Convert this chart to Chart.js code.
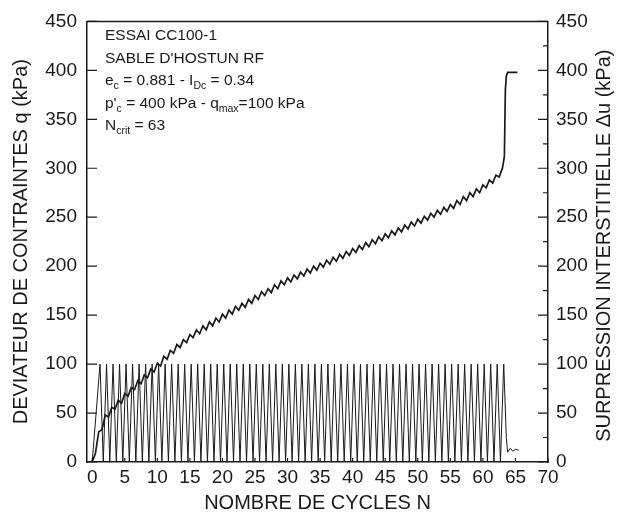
<!DOCTYPE html>
<html>
<head>
<meta charset="utf-8">
<script src="https://cdn.jsdelivr.net/npm/chart.js@4.4.0/dist/chart.umd.min.js"></script>
<style>
  html, body { margin: 0; padding: 0; background: #fff; }
  #wrap { width: 620px; height: 521px; }
</style>
</head>
<body>
<div id="wrap"><canvas id="essai_chart"></canvas></div>
<script>
// cycles N for the deviator q (peak at k+0.2, back to 0 at k+0.7)
const qN = [
  0, 1.2, 1.7, 2.2, 2.7, 3.2, 3.7, 4.2, 4.7, 5.2, 5.7, 6.2, 6.7, 7.2, 7.7, 8.2, 8.7, 9.2, 9.7,
  10.2, 10.7, 11.2, 11.7, 12.2, 12.7, 13.2, 13.7, 14.2, 14.7, 15.2, 15.7, 16.2, 16.7, 17.2, 17.7,
  18.2, 18.7, 19.2, 19.7, 20.2, 20.7, 21.2, 21.7, 22.2, 22.7, 23.2, 23.7, 24.2, 24.7, 25.2, 25.7,
  26.2, 26.7, 27.2, 27.7, 28.2, 28.7, 29.2, 29.7, 30.2, 30.7, 31.2, 31.7, 32.2, 32.7, 33.2, 33.7,
  34.2, 34.7, 35.2, 35.7, 36.2, 36.7, 37.2, 37.7, 38.2, 38.7, 39.2, 39.7, 40.2, 40.7, 41.2, 41.7,
  42.2, 42.7, 43.2, 43.7, 44.2, 44.7, 45.2, 45.7, 46.2, 46.7, 47.2, 47.7, 48.2, 48.7, 49.2, 49.7,
  50.2, 50.7, 51.2, 51.7, 52.2, 52.7, 53.2, 53.7, 54.2, 54.7, 55.2, 55.7, 56.2, 56.7, 57.2, 57.7,
  58.2, 58.7, 59.2, 59.7, 60.2, 60.7, 61.2, 61.7, 62.2, 62.7, 63.2,
  63.6, 63.8, 64.2, 64.6, 65.0, 65.5
];
const qValues = [
  0,
  100, 0, 100, 0, 100, 0, 100, 0, 100, 0,
  100, 0, 100, 0, 100, 0, 100, 0, 100, 0,
  100, 0, 100, 0, 100, 0, 100, 0, 100, 0,
  100, 0, 100, 0, 100, 0, 100, 0, 100, 0,
  100, 0, 100, 0, 100, 0, 100, 0, 100, 0,
  100, 0, 100, 0, 100, 0, 100, 0, 100, 0,
  100, 0, 100, 0, 100, 0, 100, 0, 100, 0,
  100, 0, 100, 0, 100, 0, 100, 0, 100, 0,
  100, 0, 100, 0, 100, 0, 100, 0, 100, 0,
  100, 0, 100, 0, 100, 0, 100, 0, 100, 0,
  100, 0, 100, 0, 100, 0, 100, 0, 100, 0,
  100, 0, 100, 0, 100, 0, 100, 0, 100, 0,
  100, 0, 100, 0,
  100,
  25, 10, 14, 11, 13, 12
];

// cycles N for the pore pressure du
const duN = [
  0, 0.5, 1, 1.5, 2, 2.5, 3, 3.5, 4, 4.5, 5, 5.5, 6, 6.5, 7, 7.5, 8, 8.5, 9, 9.5,
  10, 10.5, 11, 11.5, 12, 12.5, 13, 13.5, 14, 14.5, 15, 15.5, 16, 16.5, 17, 17.5, 18, 18.5, 19, 19.5,
  20, 20.5, 21, 21.5, 22, 22.5, 23, 23.5, 24, 24.5, 25, 25.5, 26, 26.5, 27, 27.5, 28, 28.5, 29, 29.5,
  30, 30.5, 31, 31.5, 32, 32.5, 33, 33.5, 34, 34.5, 35, 35.5, 36, 36.5, 37, 37.5, 38, 38.5, 39, 39.5,
  40, 40.5, 41, 41.5, 42, 42.5, 43, 43.5, 44, 44.5, 45, 45.5, 46, 46.5, 47, 47.5, 48, 48.5, 49, 49.5,
  50, 50.5, 51, 51.5, 52, 52.5, 53, 53.5, 54, 54.5, 55, 55.5, 56, 56.5, 57, 57.5, 58, 58.5, 59, 59.5,
  60, 60.5, 61, 61.5, 62, 62.5, 63,
  63.3, 63.45, 63.6, 63.8, 65.3
];
const duValues = [
  0, 9, 31, 33, 48, 46, 56, 54, 63, 60, 70, 67, 76, 74, 83, 80, 89, 86, 95, 92,
  101, 98, 108, 105, 114, 111, 120, 117, 125, 122, 130, 127, 135, 131, 139, 135, 143, 139, 147, 143,
  151, 147, 155, 151, 159, 155, 162, 158, 166, 162, 170, 166, 174, 170, 177, 173, 181, 177, 185, 181,
  188, 184, 191, 187, 194, 190, 197, 193, 200, 196, 203, 199, 206, 202, 209, 205, 212, 208, 215, 211,
  218, 214, 221, 217, 224, 220, 227, 223, 230, 226, 233, 229, 236, 232, 239, 235, 242, 238, 245, 241,
  248, 244, 251, 247, 254, 250, 257, 253, 260, 256, 263, 259, 267, 263, 271, 267, 275, 271, 279, 275,
  283, 280, 288, 285, 293, 291, 300,
  312, 380, 394, 398, 398
];

const xTicks = [0, 5, 10, 15, 20, 25, 30, 35, 40, 45, 50, 55, 60, 65, 70];

const xTitle = 'NOMBRE DE CYCLES N';
const yTitle = 'DEVIATEUR DE CONTRAINTES q (kPa)';
const y1Title = 'SURPRESSION INTERSTITIELLE \u0394u (kPa)';

// test info, runs with sub:true are subscripts
const infoLines = [
  [{ t: 'ESSAI CC100-1' }],
  [{ t: "SABLE D'HOSTUN RF" }],
  [{ t: 'e' }, { t: 'c', sub: true }, { t: ' = 0.881 - I' }, { t: 'Dc', sub: true }, { t: ' = 0.34' }],
  [{ t: "p'" }, { t: 'c', sub: true }, { t: ' = 400 kPa - q' }, { t: 'max', sub: true }, { t: '=100 kPa' }],
  [{ t: 'N' }, { t: 'crit', sub: true }, { t: ' = 63' }]
];

const FONT = "'Liberation Sans', Arial, sans-serif";
const INK = '#1a1a1a';

const toPoints = (xs, ys) => xs.map((x, i) => ({ x: x, y: ys[i] }));

// frame on top, inward ticks, right title and the info text
const decorPlugin = {
  id: 'decor',
  afterDraw(chart) {
    const ctx = chart.ctx;
    const a = chart.chartArea;
    ctx.save();
    ctx.strokeStyle = INK;
    ctx.lineWidth = 1.5;
    ctx.beginPath();
    ctx.moveTo(a.left, a.top);
    ctx.lineTo(a.right, a.top);
    ctx.stroke();

    ctx.lineWidth = 1.2;
    const yl = chart.scales.y, yr = chart.scales.y1, xs = chart.scales.x;
    ctx.beginPath();
    yl.ticks.forEach(t => {
      const p = yl.getPixelForValue(t.value);
      ctx.moveTo(a.left, p); ctx.lineTo(a.left + 10, p);
    });
    yr.ticks.forEach(t => {
      const p = yr.getPixelForValue(t.value);
      ctx.moveTo(a.right, p); ctx.lineTo(a.right - 10, p);
      if (t.value + 25 < yr.max) {
        const m = yr.getPixelForValue(t.value + 25);
        ctx.moveTo(a.right, m); ctx.lineTo(a.right - 5, m);
      }
    });
    xs.ticks.forEach(t => {
      const p = xs.getPixelForValue(t.value);
      ctx.moveTo(p, a.bottom); ctx.lineTo(p, a.bottom - 4);
    });
    ctx.stroke();

    // right axis title, read bottom to top
    ctx.fillStyle = INK;
    ctx.font = '20px ' + FONT;
    ctx.textAlign = 'center';
    ctx.textBaseline = 'middle';
    ctx.translate(604, (a.top + a.bottom) / 2 + 4);
    ctx.rotate(-Math.PI / 2);
    ctx.fillText(y1Title, 0, 0);
    ctx.restore();

    ctx.save();
    ctx.fillStyle = INK;
    ctx.textBaseline = 'alphabetic';
    ctx.textAlign = 'left';
    let y = a.top + 19;
    infoLines.forEach(line => {
      let x = a.left + 18;
      line.forEach(run => {
        ctx.font = (run.sub ? '10.5px ' : '15.5px ') + FONT;
        ctx.fillText(run.t, x, run.sub ? y + 4 : y);
        x += ctx.measureText(run.t).width;
      });
      y += 22.5;
    });
    ctx.restore();
  }
};

const ctx = document.getElementById('essai_chart').getContext('2d');

const data = {
  datasets: [
    {
      label: 'q',
      data: toPoints(qN, qValues),
      yAxisID: 'y',
      borderColor: INK,
      borderWidth: 1,
      pointRadius: 0,
      tension: 0
    },
    {
      label: 'du',
      data: toPoints(duN, duValues),
      yAxisID: 'y1',
      borderColor: INK,
      borderWidth: 1.7,
      pointRadius: 0,
      tension: 0
    }
  ]
};

const config = {
  type: 'line',
  data: data,
  options: {
    responsive: true,
    maintainAspectRatio: false,
    animation: false,
    layout: { padding: { top: 17, left: 0, right: 0, bottom: 0 } },
    plugins: { legend: { display: false }, tooltip: { enabled: false } },
    scales: {
      x: {
        type: 'linear',
        min: -0.8,
        max: 70,
        afterBuildTicks: s => { s.ticks = xTicks.map(v => ({ value: v })); },
        afterFit: s => { s.height = 59; },
        ticks: { padding: 4, color: INK, font: { family: FONT, size: 19 } },
        grid: { display: false, drawTicks: false },
        border: { color: INK, width: 1.5 },
        title: { display: true, text: xTitle, color: INK, font: { family: FONT, size: 20 }, padding: { top: 0, bottom: 6 } }
      },
      y: {
        position: 'left',
        min: 0,
        max: 450,
        afterFit: s => { s.width = 87; },
        ticks: { stepSize: 50, padding: 10, color: INK, font: { family: FONT, size: 19 } },
        grid: { display: false, drawTicks: false },
        border: { color: INK, width: 1.5 },
        title: { display: true, text: yTitle, color: INK, font: { family: FONT, size: 20 }, padding: { top: 9, bottom: 0 } }
      },
      y1: {
        position: 'right',
        min: 0,
        max: 450,
        afterFit: s => { s.width = 72; },
        ticks: { stepSize: 50, padding: 8, color: INK, font: { family: FONT, size: 19 } },
        grid: { display: false, drawTicks: false },
        border: { color: INK, width: 1.5 }
      }
    }
  },
  plugins: [decorPlugin]
};

const essai_chart = new Chart(ctx, config);
</script>
</body>
</html>
